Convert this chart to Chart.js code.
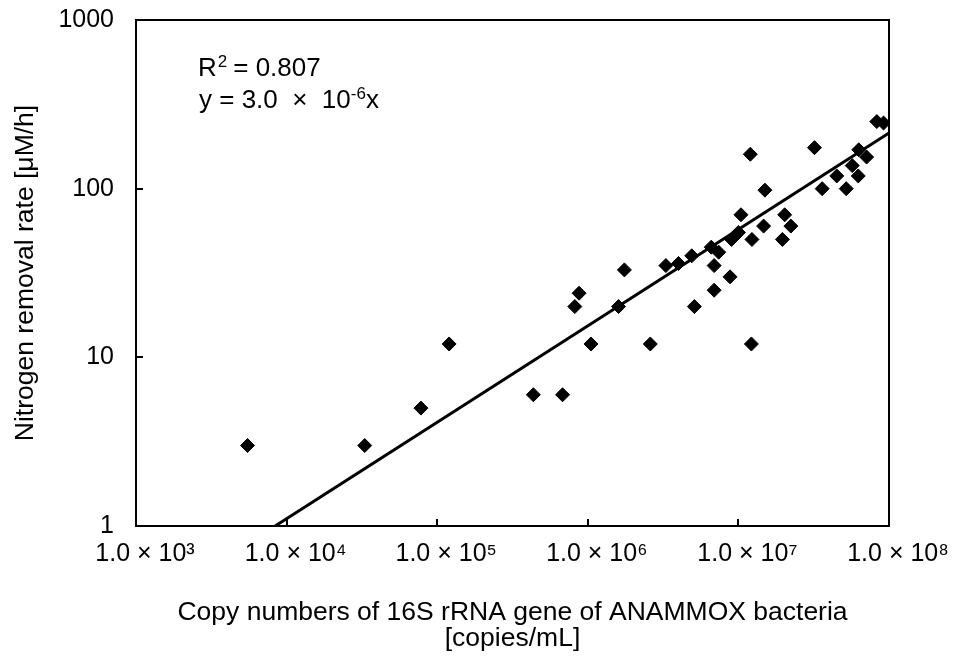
<!DOCTYPE html>
<html>
<head>
<meta charset="utf-8">
<script src="https://cdn.jsdelivr.net/npm/chart.js@4.4.1/dist/chart.umd.min.js"></script>
<style>
  body { margin: 0; background: #fff; }
  #wrap { width: 955px; height: 659px; position: relative; }
</style>
</head>
<body>
<div id="wrap"><canvas id="chart"></canvas></div>
<script>
// copy numbers [copies/mL] and nitrogen removal rate [uM/h]
const copies = [5.5e3, 3.3e4, 7.8e4, 1.2e5, 4.35e5, 6.8e5, 8.2e5, 8.75e5, 1.05e6, 1.6e6,
  1.75e6, 2.6e6, 3.3e6, 4.0e6, 4.9e6, 5.1e6, 6.6e6, 6.9e6, 6.9e6, 7.4e6,
  8.8e6, 9.0e6, 9.4e6, 1.0e7, 1.04e7, 1.2e7, 1.22e7, 1.23e7, 1.47e7, 1.5e7,
  1.96e7, 2.03e7, 2.23e7, 3.2e7, 3.6e7, 4.5e7, 5.2e7, 5.7e7, 6.25e7, 6.3e7,
  7.1e7, 8.3e7, 9.2e7];
const rates = [3, 3, 5, 12, 6, 6, 20, 24, 12, 20,
  33, 12, 35, 36, 40, 20, 45, 35, 25, 42,
  30, 50, 52, 55, 70, 160, 12, 50, 60, 98,
  50, 70, 60, 175, 100, 119, 100, 137, 119, 170,
  154, 250, 245];

// regression line ends, as drawn in the figure
const fitX = [8.4e3, 1e8];
const fitY = [1, 214];

const xTicks = [1e3, 1e4, 1e5, 1e6, 1e7, 1e8];
const xTickLabels = ['1.0 \u00d7 10\u00b3', '1.0 \u00d7 10\u2074', '1.0 \u00d7 10\u2075',
  '1.0 \u00d7 10\u2076', '1.0 \u00d7 10\u2077', '1.0 \u00d7 10\u2078'];
const yTicks = [1, 10, 100, 1000];
const yTickLabels = ['1', '10', '100', '1000'];

const FONT = "'Liberation Sans', Arial, sans-serif";

points = copies.map((c, i) => ({ x: c, y: rates[i] }));
fitLine = fitX.map((c, i) => ({ x: c, y: fitY[i] }));

// frame, inward tick marks and the R2 / equation text
const extras = {
  id: 'extras',
  afterDraw(chart) {
    const ctx = chart.ctx;
    const a = chart.chartArea;
    const sx = chart.scales.x, sy = chart.scales.y;
    ctx.save();
    ctx.strokeStyle = '#000';
    ctx.lineWidth = 2;
    ctx.strokeRect(a.left, a.top, a.right - a.left, a.bottom - a.top);
    ctx.beginPath();
    for (let i = 1; i < xTicks.length - 1; i++) {
      let px = Math.round(sx.getPixelForValue(xTicks[i]));
      ctx.moveTo(px, a.bottom);
      ctx.lineTo(px, a.bottom - 7);
    }
    for (let i = 1; i < yTicks.length - 1; i++) {
      let py = Math.round(sy.getPixelForValue(yTicks[i]));
      ctx.moveTo(a.left, py);
      ctx.lineTo(a.left + 7, py);
    }
    ctx.stroke();

    ctx.fillStyle = '#000';
    ctx.textBaseline = 'alphabetic';
    let x = a.left + 62;
    ctx.font = '26px ' + FONT;
    ctx.fillText('R', x, 76);
    x += ctx.measureText('R').width;
    ctx.font = '17px ' + FONT;
    ctx.fillText('2', x + 1, 67);
    x += ctx.measureText('2').width + 7;
    ctx.font = '26px ' + FONT;
    ctx.fillText('= 0.807', x, 76);

    x = a.left + 63;
    ctx.fillText('y = 3.0  \u00d7  10', x, 108);
    x += ctx.measureText('y = 3.0  \u00d7  10').width;
    ctx.font = '17px ' + FONT;
    ctx.fillText('-6', x, 99);
    x += ctx.measureText('-6').width;
    ctx.font = '26px ' + FONT;
    ctx.fillText('x', x, 108);
    ctx.restore();
  }
};

const ctx = document.getElementById('chart').getContext('2d');
const chart = new Chart(ctx, {
  type: 'scatter',
  data: {
    datasets: [
      {
        label: 'data',
        data: points,
        pointStyle: 'rectRot',
        pointRadius: 7,
        pointBackgroundColor: '#000',
        pointBorderColor: '#000',
        pointBorderWidth: 1,
        order: 1
      },
      {
        label: 'fit',
        data: fitLine,
        showLine: true,
        borderColor: '#000',
        borderWidth: 3,
        pointRadius: 0,
        order: 2
      }
    ]
  },
  options: {
    responsive: true,
    maintainAspectRatio: false,
    animation: false,
    layout: { padding: { top: 20, right: 66, left: 0, bottom: 0 } },
    plugins: { legend: { display: false }, tooltip: { enabled: false } },
    scales: {
      x: {
        type: 'logarithmic',
        min: 1e3,
        max: 1e8,
        afterBuildTicks: s => { s.ticks = xTicks.map(v => ({ value: v })); },
        afterFit: s => { s.height = 133; },
        grid: { display: false, drawTicks: false },
        border: { display: false },
        ticks: {
          autoSkip: false,
          maxRotation: 0,
          padding: 13,
          labelOffset: 9,
          color: '#000',
          font: { family: FONT, size: 25 },
          callback: (v, i) => xTickLabels[i]
        },
        title: {
          display: true,
          text: ['Copy numbers of 16S rRNA gene of ANAMMOX bacteria', '[copies/mL]'],
          color: '#000',
          font: { family: FONT, size: 26.5, lineHeight: 1.0 },
          padding: { top: 30, bottom: 7 }
        }
      },
      y: {
        type: 'logarithmic',
        min: 1,
        max: 1000,
        afterBuildTicks: s => { s.ticks = yTicks.map(v => ({ value: v })); },
        afterFit: s => { s.width = 136; s.paddingTop = 0; s.paddingBottom = 0; },
        grid: { display: false, drawTicks: false },
        border: { display: false },
        ticks: {
          padding: 22,
          color: '#000',
          font: { family: FONT, size: 25 },
          callback: (v, i) => yTickLabels[i]
        },
        title: {
          display: true,
          text: 'Nitrogen removal rate [\u03bcM/h]',
          color: '#000',
          font: { family: FONT, size: 26.5 },
          padding: { top: 10, bottom: 0 }
        }
      }
    }
  },
  plugins: [extras]
});
</script>
</body>
</html>
